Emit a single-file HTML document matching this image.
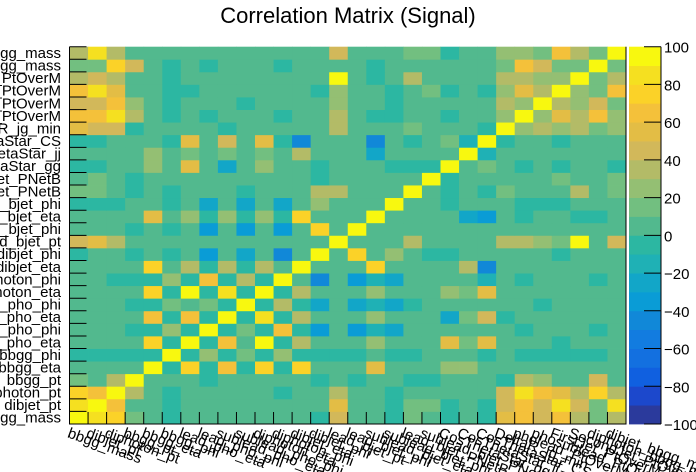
<!DOCTYPE html>
<html><head><meta charset="utf-8">
<style>
html,body{margin:0;padding:0;background:#fff;}
svg{display:block;font-family:"Liberation Sans",sans-serif;}
</style></head>
<body>
<svg id="chart" width="696" height="472" viewBox="0 0 696 472" xmlns="http://www.w3.org/2000/svg">
<text x="348" y="23" text-anchor="middle" font-size="22">Correlation Matrix (Signal)</text>
<g id="cells"></g>
<g id="axes"></g>
<g id="cbar"></g>
</svg>
<script>
const variables = ["bbgg_mass","dibjet_pt","diphoton_pt","bbgg_pt","bbgg_eta","bbgg_phi","lead_pho_eta","lead_pho_phi","sublead_pho_eta","sublead_pho_phi","diphoton_eta","diphoton_phi","dibjet_eta","dibjet_phi","lead_bjet_pt","lead_bjet_phi","sublead_bjet_eta","sublead_bjet_phi","lead_bjet_PNetB","sublead_bjet_PNetB","CosThetaStar_gg","CosThetaStar_jj","CosThetaStar_CS","DeltaR_jg_min","pholead_PtOverM","phosublead_PtOverM","FirstJet_PtOverM","SecondJet_PtOverM","diphoton_bbgg_mass","dibjet_bbgg_mass"];
const colorbarTicks = [100,80,60,40,20,0,-20,-40,-60,-80,-100];
const row0 = [95,85,75,15,5,-5,5,5,5,5,5,5,5,-5,45,5,5,-5,15,5,-5,5,-5,55,65,45,65,35,15,35];
const row1 = [85,95,65,5,5,-5,5,5,5,5,5,5,5,5,55,5,5,-5,15,15,-5,5,-5,45,65,45,85,45,15,85];
const row2 = [75,65,95,35,5,-5,5,5,5,5,5,-5,5,5,35,5,5,-5,5,5,5,5,5,45,85,65,55,35,75,35];
const row3 = [15,5,35,95,5,5,5,-5,5,5,5,5,5,-5,5,-5,5,5,-5,-5,5,5,5,-5,35,25,5,5,45,5];
const row4 = [5,5,5,5,95,-5,75,-5,65,-5,75,-5,75,5,5,5,55,5,5,5,25,25,5,5,5,5,5,5,5,5];
const row5 = [-5,-5,-5,-5,-5,95,-5,25,-5,15,-5,25,-5,-5,-5,-5,5,-5,-5,5,5,5,-5,5,-5,-5,-5,-5,-5,5];
const row6 = [5,5,5,5,75,-5,95,-5,65,5,95,-5,35,5,5,5,25,5,5,5,55,15,55,5,5,5,-5,5,5,5];
const row7 = [5,5,5,-5,-5,25,-5,95,-5,15,-5,65,-5,-35,5,-35,-15,-25,5,5,5,5,5,5,-5,5,5,5,-5,5];
const row8 = [5,5,5,5,65,-5,65,-5,95,-5,85,-5,35,5,5,5,25,5,5,5,-25,15,45,-5,5,5,5,5,5,5];
const row9 = [5,5,5,-5,-5,15,5,15,-5,95,-5,35,-5,-25,5,-25,-15,-25,-5,5,5,5,5,5,5,-5,5,5,5,5];
const row10 = [5,5,5,5,75,-5,95,-5,85,-5,95,-5,35,5,5,5,25,5,5,5,25,15,55,5,5,5,5,5,5,5];
const row11 = [5,5,-5,-5,-5,25,-5,65,-5,35,-5,95,5,-45,5,-35,-15,-25,5,5,5,5,-15,5,-5,5,5,5,-5,5];
const row12 = [5,5,5,5,75,5,35,-5,35,-5,35,5,95,5,5,5,75,5,5,5,5,35,-45,5,5,5,5,5,5,5];
const row13 = [-5,5,5,-5,5,-5,5,-35,5,-25,5,-45,5,95,5,75,5,25,5,-5,-5,5,5,5,5,5,-5,5,5,5];
const row14 = [45,55,35,5,5,5,5,5,5,5,5,5,5,5,95,5,5,5,35,5,5,5,5,35,35,25,15,95,5,45];
const row15 = [5,5,5,-5,5,-5,5,-35,5,-35,5,-35,5,75,5,95,5,5,5,5,5,5,5,5,5,5,5,5,5,5];
const row16 = [5,5,5,5,55,5,25,-5,25,-5,25,-5,75,5,5,5,95,5,5,5,5,-25,-35,5,-5,5,5,-5,-5,5];
const row17 = [-5,-5,-5,5,5,-5,5,-25,5,-25,5,-25,5,25,5,5,5,95,5,5,-5,5,5,5,-5,-5,-5,5,5,5];
const row18 = [15,15,5,-5,5,-5,5,5,5,-5,5,5,5,35,35,5,5,5,95,5,-5,5,-5,15,5,5,5,35,5,15];
const row19 = [5,15,5,-5,5,5,5,5,5,5,5,5,5,-5,5,5,5,5,5,95,-5,5,5,5,5,5,15,5,5,15];
const row20 = [-5,-5,5,5,25,5,55,5,-25,5,25,5,5,-5,5,5,5,-5,-5,-5,95,5,15,5,-5,5,-5,5,5,-5];
const row21 = [5,5,5,5,25,5,15,5,15,5,15,5,35,5,5,5,-25,5,5,5,5,95,-15,5,5,5,5,5,5,5];
const row22 = [-5,-5,5,5,5,-5,55,5,45,5,55,-5,-45,5,5,5,-45,5,-5,5,15,-15,95,-5,5,5,-5,5,5,5];
const row23 = [55,45,45,-5,5,5,5,5,-5,5,5,5,5,5,35,5,5,5,15,5,5,5,-5,95,25,35,25,35,15,25];
const row24 = [65,65,85,35,5,-5,5,-5,5,5,5,-5,5,5,35,5,-5,-5,5,5,-5,5,5,25,95,25,55,35,65,25];
const row25 = [45,45,65,25,5,-5,5,5,5,-5,5,5,5,5,25,5,5,-5,5,5,5,5,5,35,25,95,35,25,45,15];
const row26 = [65,85,55,5,5,-5,-5,5,5,5,5,5,5,-5,25,5,5,-5,5,15,-5,5,-5,25,55,35,95,25,15,65];
const row27 = [35,45,35,5,5,-5,5,5,5,5,5,5,5,5,95,5,-5,5,35,5,5,5,5,35,35,25,25,95,15,35];
const row28 = [15,15,75,45,5,-5,5,-5,5,5,5,-5,5,5,5,5,-5,5,5,5,5,5,5,15,65,45,15,15,95,15];
const row29 = [35,85,35,5,5,5,5,5,5,5,5,5,5,5,45,5,5,5,15,15,-5,5,5,25,25,15,65,35,15,95];
const matrix = [row0,row1,row2,row3,row4,row5,row6,row7,row8,row9,row10,row11,row12,row13,row14,row15,row16,row17,row18,row19,row20,row21,row22,row23,row24,row25,row26,row27,row28,row29];

const palette = ["#2b3a9c","#1c48cc","#1060e0","#1370e0","#127ce0","#1188d8","#0a9cd6","#12a6c8","#1fb1b5","#2cb7a2","#52b98e","#72bf80","#94bf73","#b3bb67","#d2b85a","#e3bd45","#f4c13a","#fbd228","#f5e020","#f8f80f"];
const NS="http://www.w3.org/2000/svg";
const X0=69.5, X1=626, Y0=46.7, Y1=424;
const n=variables.length;
const cw=(X1-X0)/n, ch=(Y1-Y0)/n;
function xPos(i){return X0+i*cw;}
function yPos(j){return Y1-(j+1)*ch;}
function colorOf(v){let b=Math.floor((v+100)/10);b=Math.max(0,Math.min(19,b));return palette[b];}
function mk(tag,attrs,parent){const e=document.createElementNS(NS,tag);for(const k in attrs)e.setAttribute(k,attrs[k]);parent.appendChild(e);return e;}

const cells=document.getElementById('cells');
for(let j=0;j<n;j++){for(let i=0;i<n;i++){
  const r=mk('rect',{x:xPos(i),y:yPos(j),width:cw+0.4,height:ch+0.4,fill:colorOf(matrix[j][i])},cells);
  
  
}}

const axes=document.getElementById('axes');
const fr=mk('path',{d:`M${X0} ${Y0}V${Y1}H${X1}V${Y0}`,fill:'none',stroke:'#000','stroke-width':1},axes);


for(let k=0;k<=n;k++){
  const yt=mk('line',{x1:X0,x2:X0+17,y1:Y1-k*ch,y2:Y1-k*ch,stroke:'#000','stroke-width':1},axes);
  
  
  const xt=mk('line',{x1:xPos(k),x2:xPos(k),y1:Y1,y2:Y1-12,stroke:'#000','stroke-width':1},axes);
  
  
}
for(let j=0;j<n;j++){
  const t=mk('text',{x:61,y:yPos(j)+ch/2+5,'text-anchor':'end','font-size':15},axes);
  t.textContent=variables[j];
  
  
}
for(let i=0;i<n;i++){
  const cx=xPos(i)+cw/2-12, cy=437;
  const t=mk('text',{x:cx,y:cy,'font-size':15,transform:`rotate(20 ${cx} ${cy})`},axes);
  t.textContent=variables[i];
  
  
}

const cb=document.getElementById('cbar');
const CX0=629, CX1=661;
const bh=(Y1-Y0)/palette.length;
for(let b=0;b<palette.length;b++){
  const r=mk('rect',{x:CX0,y:Y1-(b+1)*bh,width:CX1-CX0,height:bh+0.4,fill:palette[b]},cb);
  
  
}
const cbf=mk('line',{x1:CX1,x2:CX1,y1:Y0,y2:Y1,stroke:'#000'},cb);


function cbY(v){return Y1-(v+100)/200*(Y1-Y0);}
for(const v of colorbarTicks){
  const l=mk('line',{x1:CX1-17,x2:CX1,y1:cbY(v),y2:cbY(v),stroke:'#000'},cb);
  
  
  const t=mk('text',{x:664,y:cbY(v)+6,'font-size':15},cb);
  t.textContent=v<0?'\u2212'+Math.abs(v):String(v);
  
  
}
</script>
</body></html>
